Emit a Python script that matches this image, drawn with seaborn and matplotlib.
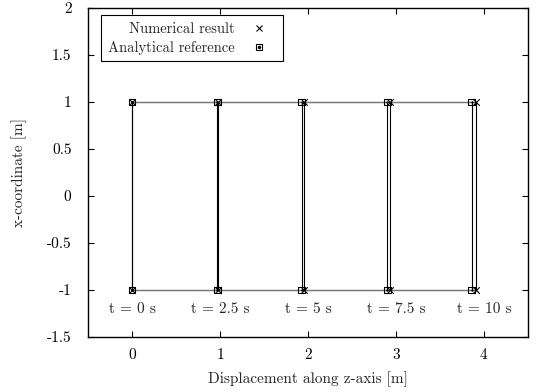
import numpy as np
import pandas as pd
import matplotlib
matplotlib.use("Agg")
import matplotlib.pyplot as plt
import seaborn as sns
from matplotlib.legend_handler import HandlerTuple
from matplotlib.lines import Line2D

# ---- data ----
times = ["t = 0 s", "t = 2.5 s", "t = 5 s", "t = 7.5 s", "t = 10 s"]
label_pos = [0, 1, 2, 3, 4]
z_numerical = [0.0, 0.975, 1.955, 2.935, 3.91]
z_analytical = [0.0, 0.97, 1.93, 2.90, 3.86]
x_top = 1.0
x_bottom = -1.0
yticks = [-1.5, -1, -0.5, 0, 0.5, 1, 1.5, 2]
ytick_labels = ["-1.5", "-1", "-0.5", "0", "0.5", "1", "1.5", "2"]
xticks = [0, 1, 2, 3, 4]

sns.set_theme(style="white")
plt.rcParams["font.family"] = ["cmr10", "DejaVu Serif"]
plt.rcParams["axes.formatter.use_mathtext"] = True
plt.rcParams["mathtext.fontset"] = "cm"

FS = 11

fig = plt.figure(figsize=(5.37, 3.92), dpi=100)
ax = fig.add_axes([0.164, 0.140, 0.819, 0.840])

rows = []
for name, zs in (("Numerical result", z_numerical), ("Analytical reference", z_analytical)):
    for z in zs:
        rows.append({"series": name, "z": z, "x": x_top})
        rows.append({"series": name, "z": z, "x": x_bottom})
df = pd.DataFrame(rows)

# lines: horizontal edges and vertical edges of each configuration
for zs in (z_numerical, z_analytical):
    ax.plot(zs, [x_top] * len(zs), color="#777777", lw=0.9, zorder=1)
    ax.plot(zs, [x_bottom] * len(zs), color="#777777", lw=0.9, zorder=1)
    for z in zs:
        ax.plot([z, z], [x_bottom, x_top], color="black", lw=0.8, zorder=1)

num = df[df.series == "Numerical result"]
ana = df[df.series == "Analytical reference"]
sns.scatterplot(data=num, x="z", y="x", marker="x", color="black", s=22,
                linewidth=0.8, ax=ax, zorder=3, legend=False)
sns.scatterplot(data=ana, x="z", y="x", marker="s", facecolor="none",
                edgecolor="black", s=24, linewidth=0.8, ax=ax, zorder=3, legend=False)
sns.scatterplot(data=ana, x="z", y="x", marker="o", color="black", s=3,
                linewidth=0, ax=ax, zorder=4, legend=False)

for lbl, p in zip(times, label_pos):
    ax.text(p, -1.2, lbl, ha="center", va="center", fontsize=FS)

ax.set_xlim(-0.5, 4.5)
ax.set_ylim(-1.5, 2)
ax.set_xticks(xticks)
ax.set_xticklabels([str(t) for t in xticks])
ax.set_yticks(yticks)
ax.set_yticklabels(ytick_labels)
ax.tick_params(direction="in", length=4, width=0.8, top=True, right=True,
               bottom=True, left=True, labelsize=FS, colors="black")
ax.tick_params(axis="x", pad=8)
ax.tick_params(axis="y", pad=12)
for s in ax.spines.values():
    s.set_color("black")
    s.set_linewidth(1.0)
ax.set_xlabel("Displacement along z-axis [m]", fontsize=FS, labelpad=7)
ax.set_ylabel("x-coordinate [m]", fontsize=FS, labelpad=14)

h_num = Line2D([], [], marker="x", color="black", ls="none", markersize=4.5, mew=0.8)
h_box = Line2D([], [], marker="s", mfc="none", mec="black", ls="none", markersize=5, mew=0.8)
h_dot = Line2D([], [], marker="o", color="black", ls="none", markersize=1.5)
leg = ax.legend([h_num, (h_box, h_dot)], ["Numerical result", "Analytical reference"],
                handler_map={tuple: HandlerTuple(ndivide=1, pad=0)},
                loc="upper left", bbox_to_anchor=(0.03, 0.977), markerfirst=False,
                alignment="right", frameon=True, fancybox=False, framealpha=1,
                edgecolor="black", fontsize=10.5, handlelength=2.4,
                borderpad=0.45, labelspacing=0.35, handletextpad=0.5,
                borderaxespad=0.0)
leg.get_frame().set_linewidth(0.8)

fig.savefig("out.png", dpi=100)
